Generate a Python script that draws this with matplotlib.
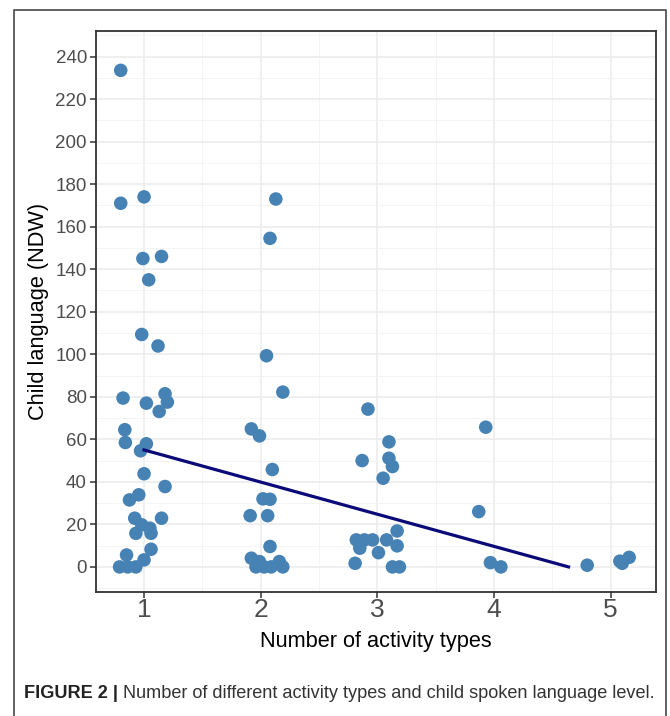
"""Scatter of child language (NDW) vs number of activity types, with lm fit line."""
import matplotlib
matplotlib.use("Agg")
import matplotlib.pyplot as plt
from matplotlib.lines import Line2D
from matplotlib.ticker import MultipleLocator

# ---- data (x values carry the jitter) ----
act_1 = [0.80, 0.80, 1.00, 0.99, 1.15, 1.04, 0.98, 1.12, 0.82, 1.02, 1.18,
         1.20, 1.13, 0.835, 0.84, 1.02, 0.97, 1.00, 1.18, 0.875, 0.955, 0.92,
         1.15, 0.98, 1.05, 0.93, 1.06, 1.06, 0.85, 1.00, 0.79, 0.86, 0.93]
ndw_1 = [233.5, 171, 174, 145, 146, 135, 109.3, 103.9, 79.4, 77.0, 81.4,
         77.5, 73.1, 64.5, 58.5, 57.9, 54.6, 43.8, 37.8, 31.5, 33.9, 22.9,
         22.9, 19.8, 18.2, 15.8, 15.8, 8.3, 5.6, 3.3, 0, 0, 0]
act_2 = [2.13, 2.08, 2.05, 2.19, 1.92, 1.99, 2.10, 2.02, 2.08, 1.91, 2.06,
         2.08, 1.92, 1.99, 1.96, 2.09, 2.16, 2.19, 2.03]
ndw_2 = [173, 154.5, 99.3, 82.2, 64.9, 61.6, 45.8, 32, 31.8, 24.1, 24.1,
         9.6, 4.1, 2.5, 0, 0, 2.5, 0, 0]
act_3 = [2.92, 3.10, 2.87, 3.10, 3.13, 3.05, 2.82, 2.89, 2.96, 2.85, 3.08,
         3.17, 3.17, 3.01, 2.81, 3.13, 3.19]
ndw_3 = [74.2, 58.8, 50.0, 51.1, 47.2, 41.7, 12.7, 12.7, 12.7, 8.8, 12.7,
         16.9, 9.9, 6.7, 1.7, 0, 0]
act_4 = [3.93, 3.87, 3.97, 4.06]
ndw_4 = [65.7, 26.0, 2.0, 0]
act_5 = [4.80, 5.08, 5.10, 5.16]
ndw_5 = [0.8, 2.7, 1.7, 4.5]

fit_x = [1.0, 4.64]
fit_y = [55.0, 0.0]

x_ticks = [1, 2, 3, 4, 5]
y_ticks = list(range(0, 241, 20))

caption_bold = "FIGURE 2 |"
caption_rest = " Number of different activity types and child spoken language level."

W, H, DPI = 670, 716, 100
plt.rcParams["font.family"] = ["Liberation Sans", "DejaVu Sans"]

fig = plt.figure(figsize=(W / DPI, H / DPI), dpi=DPI)
ax = fig.add_axes([96 / W, 1 - 592 / H, (656 - 96) / W, (592 - 31) / H])

xs = act_1 + act_2 + act_3 + act_4 + act_5
ys = ndw_1 + ndw_2 + ndw_3 + ndw_4 + ndw_5
ax.scatter(xs, ys, s=95, color="#4682B4", edgecolor="none", zorder=3)
ax.plot(fit_x, fit_y, color="#0a0a78", lw=2.3, zorder=4)

ax.set_xlim(0.588, 5.39)
ax.set_ylim(-11.8, 252)
ax.set_xticks(x_ticks)
ax.set_yticks(y_ticks)
ax.xaxis.set_minor_locator(MultipleLocator(0.5))
ax.yaxis.set_minor_locator(MultipleLocator(10))
ax.grid(True, which="major", color="#EBEBEB", lw=1.1, zorder=0)
ax.grid(True, which="minor", color="#F2F2F2", lw=0.6, zorder=0)
ax.set_axisbelow(True)
for sp in ax.spines.values():
    sp.set_color("#333333")
    sp.set_linewidth(1.3)

ax.tick_params(axis="both", which="major", color="#333333", length=4.5, width=1.1)
ax.tick_params(axis="both", which="minor", length=0)
ax.tick_params(axis="y", labelsize=13.5, labelcolor="#4D4D4D", pad=2)
ax.tick_params(axis="x", labelsize=19, labelcolor="#4D4D4D", pad=0)

ax.set_xlabel("Number of activity types", fontsize=15.7, labelpad=6)
ax.set_ylabel("Child language (NDW)", fontsize=15.7, labelpad=5)

# outer frame of the figure panel, open at the bottom
fig.add_artist(Line2D([14 / W, 14 / W, 666 / W, 666 / W],
                      [0, 1 - 10 / H, 1 - 10 / H, 0],
                      transform=fig.transFigure, color="#555555", lw=1.3))

# caption: bold label, then plain text
t1 = fig.text(24 / W, 1 - 693 / H, caption_bold, fontsize=13.1, fontweight="bold",
              va="center", ha="left", color="#222222")
fig.canvas.draw()
bb = t1.get_window_extent(fig.canvas.get_renderer())
fig.text(bb.x1 / W, 1 - 693 / H, caption_rest, fontsize=13.1,
         va="center", ha="left", color="#333333")

fig.savefig("out.png", dpi=DPI)
